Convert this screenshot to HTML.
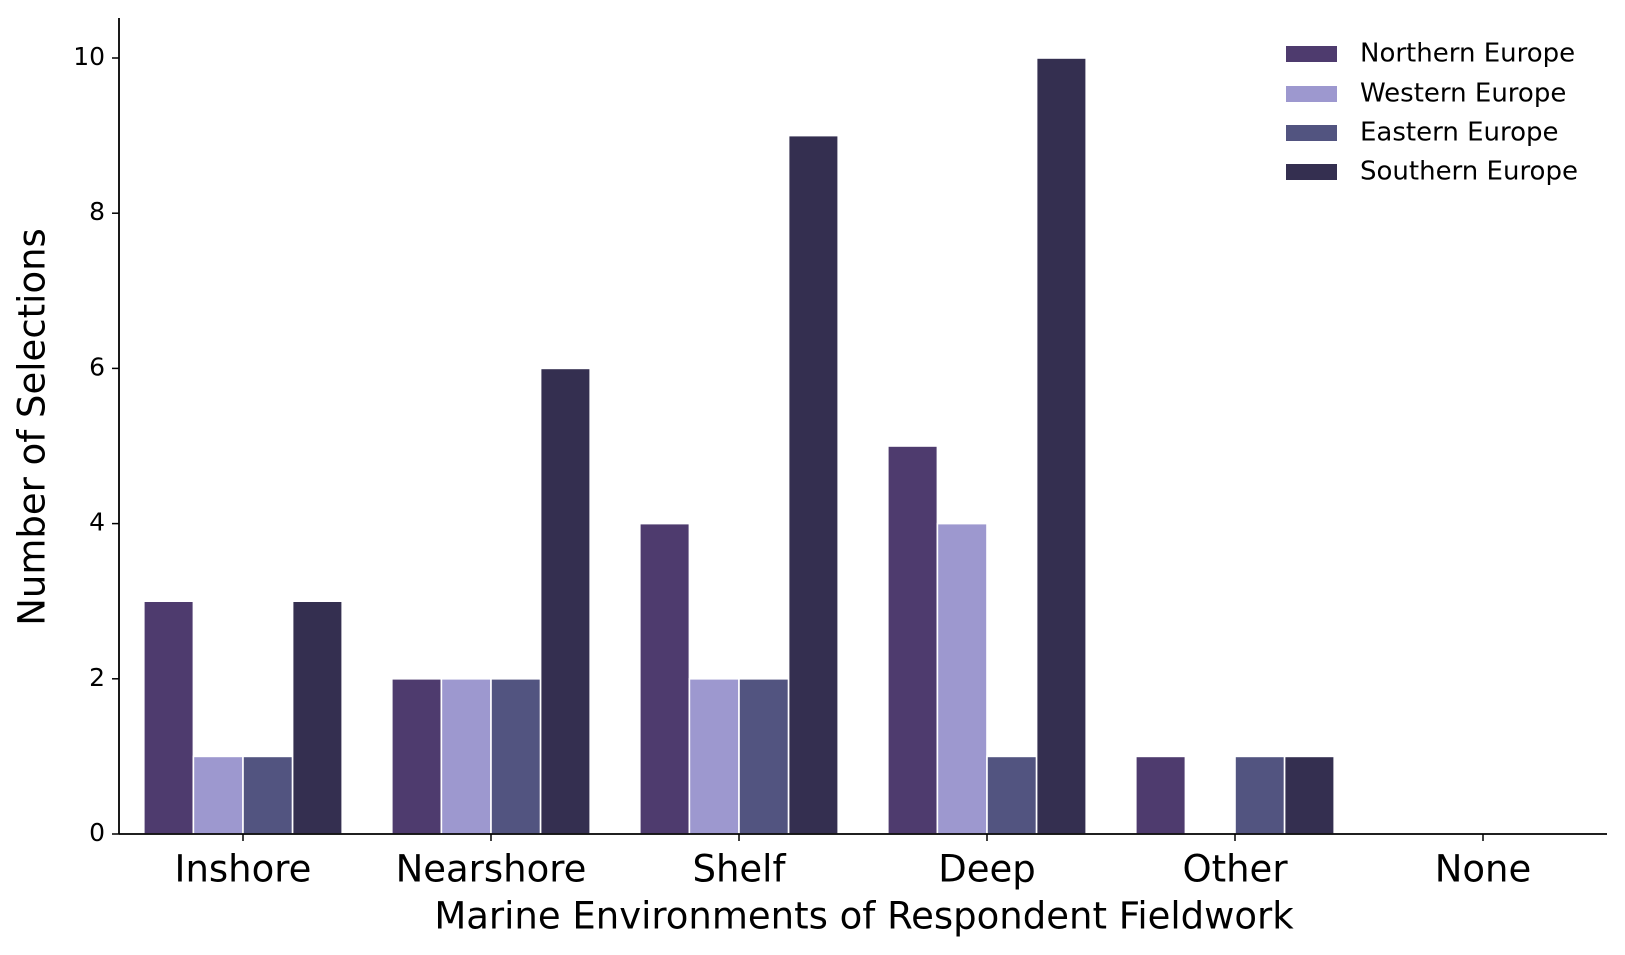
<!DOCTYPE html>
<html><head><meta charset="utf-8"><style>
html,body{margin:0;padding:0;background:#fff;}
svg{display:block;font-family:"DejaVu Sans","Liberation Sans",sans-serif;}
</style></head><body>
<svg id="chart" width="1625" height="955" viewBox="0 0 1625 955">
<g id="bars"></g>
<g id="axes"></g>
<g id="legend"></g>
<text x="34" y="427" font-size="37" text-anchor="middle" dominant-baseline="middle" transform="rotate(-90 34 427)">Number of Selections</text>
<text x="864" y="918" font-size="37" text-anchor="middle" dominant-baseline="middle">Marine Environments of Respondent Fieldwork</text>
</svg>
<script>
const categories = ["Inshore","Nearshore","Shelf","Deep","Other","None"];
const seriesNames = ["Northern Europe","Western Europe","Eastern Europe","Southern Europe"];
const northern = [3,2,4,5,1,0];
const western = [1,2,2,4,0,0];
const eastern = [1,2,2,1,1,0];
const southern = [3,6,9,10,1,0];
const yTicks = [0,2,4,6,8,10];
const colors = ["#4e3b6e","#9d98cf","#525480","#342f50"];
const series = [northern, western, eastern, southern];

const NS = "http://www.w3.org/2000/svg";
const x0 = 119, x1 = 1607, yBase = 834, yTop = 18;
const step = 248, firstCenter = 243;
const unit = (834 - 58) / 10;
function xScale(i){ return firstCenter + i*step; }
function yScale(v){ return yBase - v*unit; }
function mk(tag, attrs, parent){ const e=document.createElementNS(NS,tag); for(const k in attrs) e.setAttribute(k,attrs[k]); parent.appendChild(e); return e; }

const barsG = document.getElementById('bars');
const bw = step*0.8/4;
series.forEach((vals, s) => {
  vals.forEach((v, i) => {
    if (v <= 0) return;
    const x = xScale(i) - step*0.4 + s*bw;
    const r = mk('rect', {x: x, y: yScale(v), width: bw, height: yBase - yScale(v), fill: colors[s], stroke: '#fff', 'stroke-width': 1.6}, barsG);
    
    
  });
});

const axesG = document.getElementById('axes');
const ya = mk('line', {x1:x0, y1:yTop, x2:x0, y2:yBase, stroke:'#000', 'stroke-width':1.8}, axesG);


const xa = mk('line', {x1:x0, y1:yBase, x2:x1, y2:yBase, stroke:'#000', 'stroke-width':1.8}, axesG);


yTicks.forEach(t => {
  const y = yScale(t);
  mk('line', {x1:x0-7, y1:y, x2:x0, y2:y, stroke:'#000', 'stroke-width':1.5}, axesG);
  const tx = mk('text', {x:x0-14, y:y, 'font-size':25, 'text-anchor':'end', 'dominant-baseline':'middle'}, axesG);
  tx.textContent = t;
  
  
});
categories.forEach((c, i) => {
  const x = xScale(i);
  mk('line', {x1:x, y1:yBase, x2:x, y2:yBase+7, stroke:'#000', 'stroke-width':1.5}, axesG);
  const tx = mk('text', {x:x, y:871, 'font-size':37, 'text-anchor':'middle', 'dominant-baseline':'middle'}, axesG);
  tx.textContent = c;
  
  
});

const legG = document.getElementById('legend');
const rowY = [54, 94, 133, 172];
seriesNames.forEach((n, s) => {
  const g = mk('g', {}, legG);
  
  
  mk('rect', {x:1286, y:rowY[s]-8, width:51, height:16, fill:colors[s]}, g);
  const tx = mk('text', {x:1360, y:rowY[s], 'font-size':26, 'dominant-baseline':'middle'}, g);
  tx.textContent = n;
});
</script>
</body></html>
